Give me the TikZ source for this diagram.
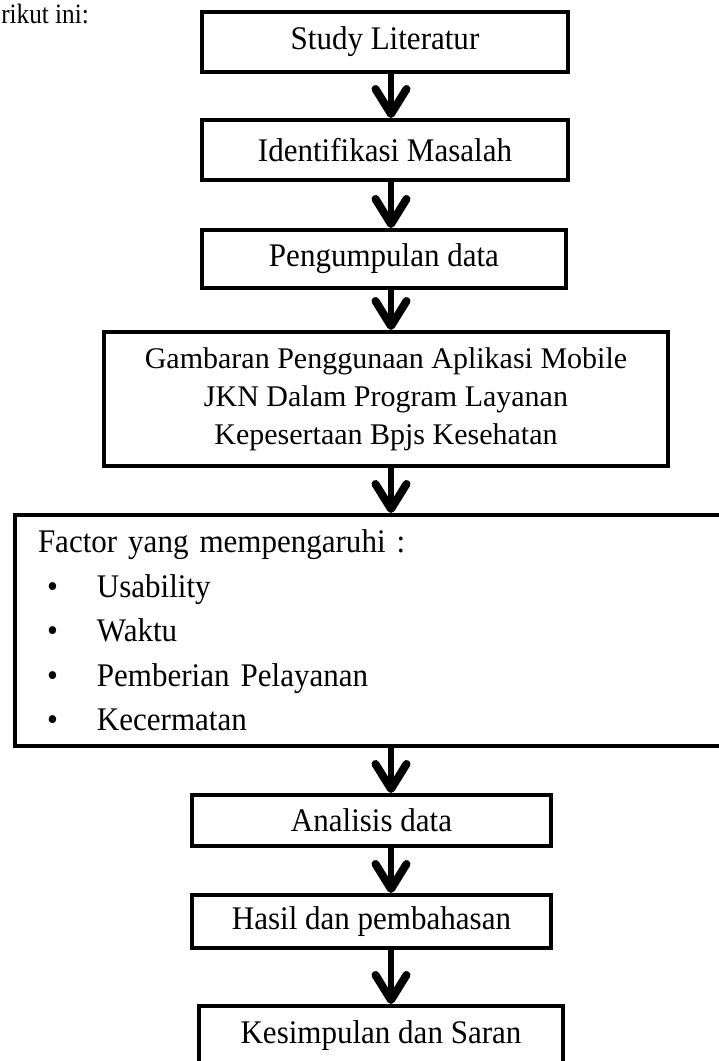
\documentclass[tikz,border=0pt]{standalone}
\usepackage{fontspec}
\setmainfont[FakeStretch=0.94]{Liberation Serif}
\newfontfamily\plainserif{Liberation Serif}
\usetikzlibrary{arrows.meta}
\begin{document}
\begin{tikzpicture}[x=1pt,y=-1pt,
  box/.style={draw, line width=4pt, inner sep=0pt, font=\fontsize{33}{38}\selectfont, align=center},
  plain/.style={inner sep=0pt, font=\plainserif\fontsize{28}{34}\selectfont},
  flow/.style={line width=6pt, -{Straight Barb[length=25pt,width=31pt,line width=8pt,round]}}]
\useasboundingbox (0,0) rectangle (719,1061);
\clip (0,0) rectangle (719,1061);
\node[plain, anchor=base east] (intro) at (89,23) {\scalebox{0.9}[1]{rikut ini:}};
\node[box, minimum width=366pt, minimum height=60pt] (study) at (385,42) {Study Literatur};
\node[box, minimum width=366pt, minimum height=60pt] (ident) at (385,150) {Identifikasi Masalah};
\node[box, minimum width=364pt, minimum height=58pt] (peng) at (384,259) {Pengumpulan data};
\node[box, font=\plainserif\fontsize{30}{38}\selectfont, minimum width=564pt, minimum height=134pt] (gamb) at (386,399)
  {Gambaran Penggunaan Aplikasi Mobile\\JKN Dalam Program Layanan\\Kepesertaan Bpjs Kesehatan};
\node[box, font=\fontsize{33}{44.5}\selectfont, align=left, inner xsep=23pt, text width=689pt,
  minimum height=231pt] (factor) at (382.5,630.5)
  {Factor yang mempengaruhi :\\
   \hspace*{9pt}\makebox[50pt][l]{•}Usability\\
   \hspace*{9pt}\makebox[50pt][l]{•}Waktu\\
   \hspace*{9pt}\makebox[50pt][l]{•}Pemberian Pelayanan\\
   \hspace*{9pt}\makebox[50pt][l]{•}Kecermatan};
\node[box, minimum width=359pt, minimum height=51pt] (anal) at (371.5,820.5) {Analisis data};
\node[box, minimum width=359pt, minimum height=53pt] (hasil) at (371.5,921.5) {Hasil dan pembahasan};
\node[box, minimum width=364pt, minimum height=60pt] (kes) at (381,1036) {Kesimpulan dan Saran};
\coordinate (ax) at (391,0);
\draw[flow] (study.south -| ax) -- (ident.north -| ax);
\draw[flow] (ident.south -| ax) -- (peng.north -| ax);
\draw[flow] (peng.south -| ax) -- (gamb.north -| ax);
\draw[flow] (gamb.south -| ax) -- (factor.north -| ax);
\draw[flow] (factor.south -| ax) -- (anal.north -| ax);
\draw[flow] (anal.south -| ax) -- (hasil.north -| ax);
\draw[flow] (hasil.south -| ax) -- (kes.north -| ax);
\end{tikzpicture}
\end{document}
